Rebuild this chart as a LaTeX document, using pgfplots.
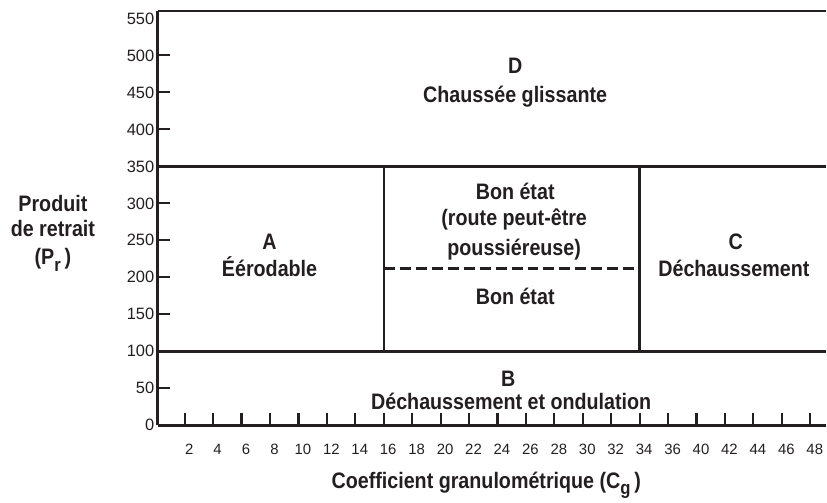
\documentclass[border=0pt]{standalone}
\usepackage{fontspec}
\setmainfont{Liberation Sans}
\newfontfamily\cond{Liberation Sans}[FakeStretch=0.88]
\usepackage{pgfplots}
\pgfplotsset{compat=1.18}
\definecolor{ink}{RGB}{35,31,32}
\newcommand{\lab}{\cond\bfseries\fontsize{22.5}{26}\selectfont}
\begin{document}
\begin{tikzpicture}
\begin{axis}[
  scale only axis, width=669bp, height=415bp,
  xmin=0.053, xmax=23.543, ymin=0, ymax=560,
  axis x line=bottom, axis y line=left,
  axis line style={-, line width=2.6bp, color=ink},
  xtick={1,...,23},
  xticklabels={2,4,6,8,10,12,14,16,18,20,22,24,26,28,30,32,34,36,40,42,44,46,48},
  ytick={0,50,...,500},
  extra y ticks={550},
  extra y tick style={major tick length=0pt},
  tick align=inside, major tick length=12bp,
  tick style={line width=2.2bp, color=ink},
  xticklabel style={font=\fontsize{15}{17}\selectfont, xshift=4.5bp, yshift=-15bp, text=ink},
  yticklabel style={font=\fontsize{16.5}{19}\selectfont, text=ink},
  /pgf/number format/assume math mode=true,
  clip=false,
]
% region boundaries
\addplot[ink, line width=2.6bp] coordinates {(0.053,560) (23.543,560)};
\addplot[ink, line width=2.6bp] coordinates {(0.053,350) (23.543,350)};
\addplot[ink, line width=2.6bp] coordinates {(0.053,100) (23.543,100)};
\addplot[ink, line width=2.4bp] coordinates {(8,100) (8,350)};
\addplot[ink, line width=2.4bp] coordinates {(17,100) (17,350)};
\addplot[ink, line width=2.2bp, dash pattern=on 11bp off 5bp] coordinates {(8,212) (17,212)};
% texts
\node[anchor=base, font=\lab, text=ink] at (axis cs:12.623,475) {D};
\node[anchor=base, font=\lab, text=ink] at (axis cs:12.623,435.9) {Chaussée glissante};
\node[anchor=base, font=\lab, text=ink] at (axis cs:12.623,305) {Bon état};
\node[anchor=base, font=\lab, text=ink] at (axis cs:12.588,269.9) {(route peut-être};
\node[anchor=base, font=\lab, text=ink] at (axis cs:12.588,229.4) {poussiéreuse)};
\node[anchor=base, font=\lab, text=ink] at (axis cs:12.623,163.3) {Bon état};
\node[anchor=base, font=\lab, text=ink] at (axis cs:3.985,237.5) {A};
\node[anchor=base, font=\lab, text=ink] at (axis cs:3.985,201.1) {Éérodable};
\node[anchor=base, font=\lab, text=ink] at (axis cs:20.383,237.5) {C};
\node[anchor=base, font=\lab, text=ink] at (axis cs:20.313,201.1) {Déchaussement};
\node[anchor=base, font=\lab, text=ink] at (axis cs:12.377,52.6) {B};
\node[anchor=base, font=\lab, text=ink] at (axis cs:12.482,21.6) {Déchaussement et ondulation};
\node[anchor=base, font=\lab, text=ink] at (axis cs:-3.634,288.8) {Produit};
\node[anchor=base, font=\lab, text=ink] at (axis cs:-3.634,255.1) {de retrait};
\node[anchor=base, font=\lab, text=ink] at (axis cs:-3.634,217.3) {(P\raisebox{-0.3em}{\fontsize{19}{20}\selectfont r}\,)};
\node[anchor=base, font=\lab, text=ink] at (axis cs:11.605,-85) {Coefficient granulométrique (C\raisebox{-0.3em}{\fontsize{19}{20}\selectfont g}\,)};
\coordinate (bl) at (rel axis cs:0,0);
\coordinate (tr) at (rel axis cs:1,1);
\end{axis}
\path[use as bounding box] ([xshift=-158bp,yshift=-73bp]bl) rectangle ([yshift=11bp]tr);
\end{tikzpicture}
\end{document}
